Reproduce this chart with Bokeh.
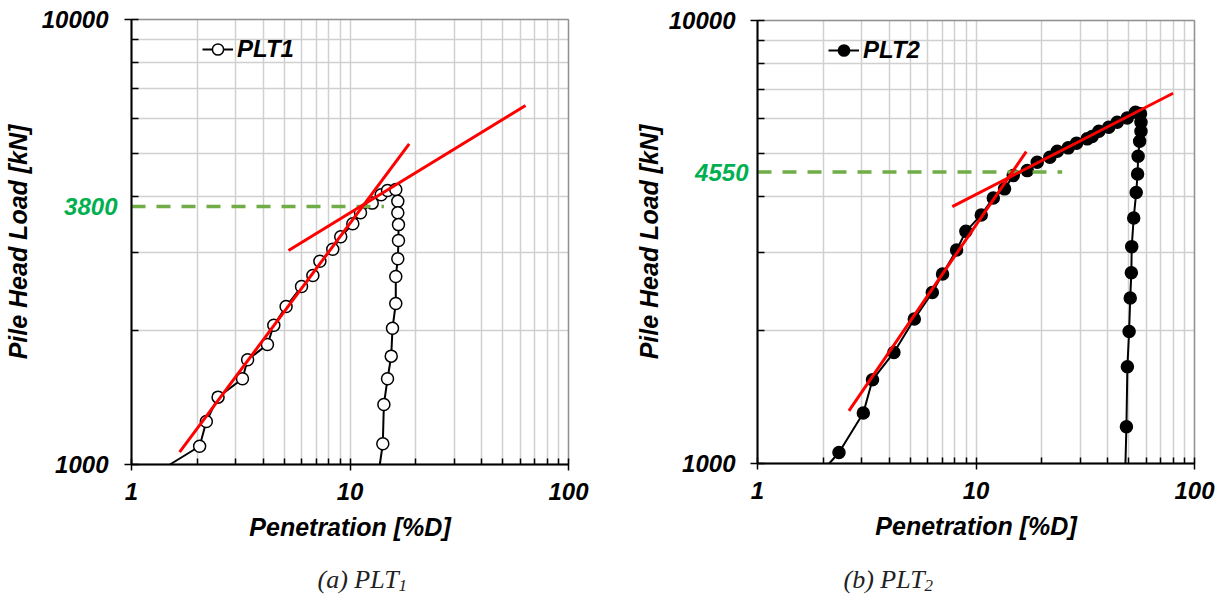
import math
from bokeh.plotting import figure
from bokeh.models import (FixedTicker, Label, Legend, LegendItem, Range1d,
                          BasicTickFormatter, BoxAnnotation)
from bokeh.layouts import row
from bokeh.embed import file_html
from bokeh.resources import INLINE

# ---------------- data ----------------
# PLT1: penetration [%D] and pile head load [kN] (loading then unloading)
plt1_pen = [1.50, 2.05, 2.20, 2.49, 3.22, 3.40, 4.19, 4.48, 5.10, 6.00, 6.76,
            7.28, 8.34, 9.07, 10.3, 11.17, 12.64, 13.89, 14.85, 16.2, 16.55,
            16.55, 16.67, 16.67, 16.55, 16.2, 16.2, 15.65, 15.44, 14.85, 14.29,
            14.13, 13.69]
plt1_load = [1000, 1099, 1249, 1417, 1558, 1719, 1861, 2056, 2265, 2512, 2659,
             2863, 3047, 3249, 3475, 3678, 3867, 4037, 4128, 4150, 3906,
             3678, 3460, 3187, 2899, 2645, 2300, 2024, 1752, 1558, 1364,
             1113, 1000]

# PLT2
plt2_pen = [2.13, 2.36, 3.05, 3.36, 4.21, 5.22, 6.31, 7.03, 8.15, 8.99, 10.57,
            12.0, 13.51, 14.81, 17.16, 19.06, 21.78, 23.55, 26.43, 28.84, 32.28,
            34.0, 36.5, 40.5, 44.3, 49.2, 53.7, 56.6, 56.9, 56.9, 56.1, 55.2,
            54.9, 54.1, 52.7, 51.6, 51.4, 50.8, 50.2, 49.3, 48.8, 48.3]
plt2_load = [1000, 1059, 1300, 1545, 1781, 2119, 2433, 2679, 3034, 3342, 3640,
             3976, 4168, 4466, 4583, 4786, 4912, 5068, 5158, 5283, 5405,
             5470, 5623, 5741, 5892, 6027, 6206, 6155, 5892, 5623, 5340, 4937,
             4505, 4088, 3584, 3087, 2696, 2364, 1987, 1654, 1210, 1000]

# tangent lines (red)
plt1_tan1_x = [1.66, 18.66]
plt1_tan1_y = [1066, 5256]
plt1_tan2_x = [5.23, 63.6]
plt1_tan2_y = [3026, 6408]
plt2_tan1_x = [2.62, 16.98]
plt2_tan1_y = [1315, 5059]
plt2_tan2_x = [7.79, 79.8]
plt2_tan2_y = [3802, 6851]

# interpreted yield loads (green dashed)
plt1_yield_x = [1, 14.3]
plt1_yield_load = 3800
plt2_yield_x = [1, 24.8]
plt2_yield_load = 4550

x_major = [1, 10, 100]
x_minor = [2, 3, 4, 5, 6, 7, 8, 9, 20, 30, 40, 50, 60, 70, 80, 90]
y_major = [1000, 10000]
y_minor = [2000, 3000, 4000, 5000, 6000, 7000, 8000, 9000]

FONT = "Liberation Sans"
SERIF = "Liberation Serif"
GRID = "#d0d0d0"
W, H = 614, 599


def make_panel(pen, load, fill, name, t1x, t1y, t2x, t2y, yx, yload,
               fx0, fx1, fy_top, fy_bot, ylab_standoff, ytitle_standoff,
               yield_label_right, cap_x, cap_text, cap_sub):
    # pixel layout of the plotting box inside this canvas
    dec_x = (fx1 - fx0) / (math.log10(x_major[-1]) - math.log10(x_major[0]))
    dec_y = (fy_bot - fy_top) / (math.log10(y_major[-1]) - math.log10(y_major[0]))
    lx0 = math.log10(x_major[0]) - fx0 / dec_x
    lx1 = math.log10(x_major[0]) + (W - fx0) / dec_x
    ly0 = math.log10(y_major[0]) - (H - fy_bot) / dec_y
    ly1 = math.log10(y_major[0]) + fy_bot / dec_y

    p = figure(width=W, height=H, x_axis_type="log", y_axis_type="log",
               x_range=Range1d(10 ** lx0, 10 ** lx1),
               y_range=Range1d(10 ** ly0, 10 ** ly1),
               output_backend="svg", toolbar_location=None, min_border=0,
               background_fill_color="white", border_fill_color="white")
    p.outline_line_color = None

    xt = FixedTicker(ticks=x_major, minor_ticks=x_minor)
    yt = FixedTicker(ticks=y_major, minor_ticks=y_minor)
    xa = p.xaxis[0]
    ya = p.yaxis[0]
    xa.ticker = xt
    ya.ticker = yt
    xa.formatter = BasicTickFormatter(use_scientific=False)
    ya.formatter = BasicTickFormatter(use_scientific=False)
    xa.fixed_location = y_major[0]
    ya.fixed_location = x_major[0]
    xa.bounds = (x_major[0], x_major[-1])
    ya.bounds = (y_major[0], y_major[-1])

    xg = p.xgrid[0]
    yg = p.ygrid[0]
    xg.ticker = xt
    yg.ticker = yt
    xg.bounds = (x_major[0], x_major[-1])
    xg.cross_bounds = (y_major[0], y_major[-1])
    yg.bounds = (y_major[0], y_major[-1])
    yg.cross_bounds = (x_major[0], x_major[-1])
    for g in (xg, yg):
        g.grid_line_color = GRID
        g.grid_line_width = 1.5
        g.minor_grid_line_color = GRID
        g.minor_grid_line_width = 1.5

    for ax in (xa, ya):
        ax.axis_line_color = "black"
        ax.axis_line_width = 2
        ax.major_tick_line_color = "black"
        ax.minor_tick_line_color = "black"
        ax.major_tick_line_width = 1.5
        ax.minor_tick_line_width = 1.5
        ax.major_label_text_font = FONT
        ax.major_label_text_font_style = "bold italic"
        ax.major_label_text_font_size = "24px"
        ax.major_label_text_color = "black"
        ax.axis_label_text_font = FONT
        ax.axis_label_text_font_style = "bold italic"
        ax.axis_label_text_font_size = "25px"
        ax.axis_label_text_color = "black"

    xa.axis_label = "Penetration [%D]"
    xa.major_tick_in = 6
    xa.major_tick_out = 6
    xa.minor_tick_in = 6
    xa.minor_tick_out = 0
    xa.major_label_standoff = 12
    xa.axis_label_standoff = 10

    ya.axis_label = "Pile Head Load [kN]"
    ya.major_tick_in = 7
    ya.major_tick_out = 7
    ya.minor_tick_in = 7
    ya.minor_tick_out = 0
    ya.major_label_standoff = ylab_standoff
    ya.axis_label_standoff = ytitle_standoff

    # frame border of the plotting box
    p.add_layout(BoxAnnotation(left=x_major[0], right=x_major[-1],
                               bottom=y_major[0], top=y_major[-1],
                               fill_alpha=0, line_color="black",
                               line_width=1.5, level="underlay"))

    lr = p.line(pen, load, line_color="black", line_width=2)
    sr = p.scatter(pen[1:-1], load[1:-1], marker="circle", size=12,
                   fill_color=fill, line_color="black", line_width=1.5)

    p.line(yx, [yload, yload], line_color="#70ad47", line_width=3.5,
           line_dash="14 11")
    p.line(t1x, t1y, line_color="#ff0000", line_width=3)
    p.line(t2x, t2y, line_color="#ff0000", line_width=3)

    leg = Legend(items=[LegendItem(label=name, renderers=[lr, sr])],
                 location=(fx0 + 71, H - fy_top - 30 - 14))
    leg.label_text_font = FONT
    leg.label_text_font_style = "bold italic"
    leg.label_text_font_size = "24px"
    leg.label_text_color = "black"
    leg.glyph_width = 31
    leg.glyph_height = 28
    leg.label_height = 28
    leg.label_standoff = 4
    leg.padding = 0
    leg.margin = 0
    leg.spacing = 0
    leg.border_line_color = None
    leg.background_fill_alpha = 0
    p.add_layout(leg)

    p.add_layout(Label(x=yield_label_right, y=yload, x_units="screen",
                       y_units="data", text=str(yload), text_align="right",
                       text_baseline="middle", text_color="#00b050",
                       text_font=FONT, text_font_style="bold italic",
                       text_font_size="24px"))

    p.add_layout(Label(x=cap_x, y=20, x_units="screen", y_units="screen",
                       text=cap_text, text_align="left",
                       text_baseline="middle", text_color="#222222",
                       text_font=SERIF, text_font_style="italic",
                       text_font_size="26px"))
    p.add_layout(Label(x=cap_x + 81, y=14, x_units="screen",
                       y_units="screen", text=cap_sub, text_align="left",
                       text_baseline="middle", text_color="#222222",
                       text_font=SERIF, text_font_style="italic",
                       text_font_size="17px"))
    return p


p1 = make_panel(plt1_pen, plt1_load, "white", "PLT1",
                plt1_tan1_x, plt1_tan1_y, plt1_tan2_x, plt1_tan2_y,
                plt1_yield_x, plt1_yield_load,
                131, 568, 19, 464, 16, 7, 117, 317, "(a) PLT", "1")
p2 = make_panel(plt2_pen, plt2_load, "black", "PLT2",
                plt2_tan1_x, plt2_tan1_y, plt2_tan2_x, plt2_tan2_y,
                plt2_yield_x, plt2_yield_load,
                143, 580, 20, 463, 15, 3, 134, 229, "(b) PLT", "2")

layout = row(p1, p2)
open("out.html", "w").write(file_html(layout, INLINE))
